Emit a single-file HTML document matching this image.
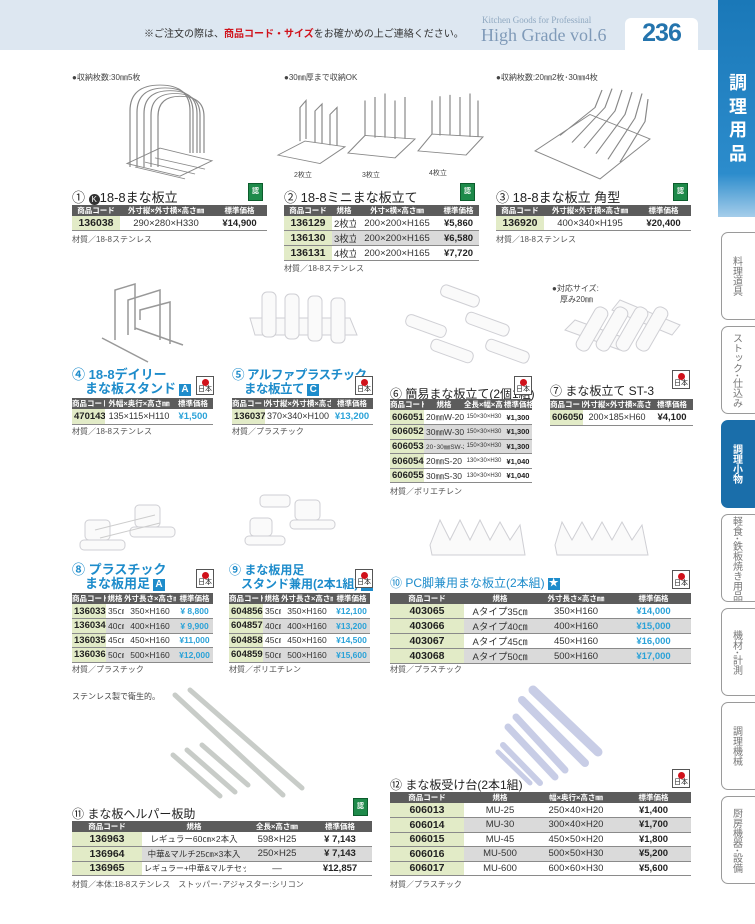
<!DOCTYPE html>
<html><head><meta charset="utf-8">
<style>
*{margin:0;padding:0;box-sizing:border-box}
body{width:755px;height:924px;position:relative;background:#fff;font-family:"Liberation Sans","Noto Sans CJK JP",sans-serif;color:#222;overflow:hidden}
.a{position:absolute;white-space:nowrap}
.hdr{position:absolute;left:0;top:0;width:718px;height:50px;background:#dde7f1}
.tab236{position:absolute;left:625px;top:18px;width:73px;height:34px;background:#fff;border-radius:6px 6px 0 0;text-align:center;font:bold 25px "Liberation Sans",sans-serif;color:#2474ad;line-height:30px;letter-spacing:-1px}
.side{position:absolute;left:718px;top:0;width:37px;height:217px;background:linear-gradient(#1a78b8,#2c8ccc 80%,#a5cdea)}
.sidetxt{position:absolute;left:726px;top:72px;width:24px;color:#fff;font-weight:bold;font-size:18px;line-height:23.5px;text-align:center}
.stab{position:absolute;left:721px;width:40px;height:88px;border:1px solid #9a9a9a;border-radius:7px;background:#fff;color:#777;font-size:10px;writing-mode:vertical-rl;display:flex;align-items:center;justify-content:center;padding-right:10px}
.stab.on{background:#1a6eaa;border-color:#1a6eaa;color:#fff;font-weight:bold}
table{position:absolute;border-collapse:collapse;font-size:9.5px;table-layout:fixed}
th{background:#5c5c5c;color:#fff;font-size:7.5px;font-weight:bold;text-align:center;padding:0;white-space:nowrap;overflow:hidden}
td{border-bottom:1.5px solid #8a8a8a;padding:0 2px;white-space:nowrap;overflow:hidden;text-align:center;color:#333}
td.c{background:#e2ebc7;font-weight:bold;font-size:10.5px;color:#222}
tr.g td{background:#dadada}
tr.g td.c{background:#e2ebc7}
td.p{font-weight:bold;color:#222}
td.b{font-weight:bold;color:#2aa2d8}
.t1{font-size:13px;color:#222}
.tb{font-size:13px;color:#1e8ccb;font-weight:bold;line-height:14px}
.note{font-size:8px;color:#444}
.mat{font-size:8px;color:#555}
.gr{position:absolute;width:15px;height:18px;background:#1e8a4a;border:1px solid #0c5c2c;color:#fff;font-size:7px;font-weight:bold;text-align:center;line-height:16px}
.jp{position:absolute;width:18px;height:19px;border:1px solid #555;background:#fff;font-size:7px;text-align:center;padding-top:9px;line-height:8px}
.jp:before{content:"";position:absolute;left:5px;top:2px;width:7px;height:7px;border-radius:50%;background:#d0121b}
.bx{display:inline-block;background:#1e8ccb;color:#fff;font-size:10px;width:12px;height:12px;line-height:12px;text-align:center;margin-left:3px;vertical-align:1px}
</style></head><body>

<div class="hdr"></div>
<div class="a" style="left:144px;top:25px;font-size:10px;color:#333">※ご注文の際は、<b style="color:#d0121b">商品コード・サイズ</b>をお確かめの上ご連絡ください。</div>
<div class="a" style="left:482px;top:15px;font:9px 'Liberation Serif',serif;color:#8fa8c0">Kitchen Goods for Professinal</div>
<div class="a" style="left:481px;top:25px;font:18px 'Liberation Serif',serif;color:#7f9ab8">High Grade vol.6</div>
<div class="tab236">236</div>
<div class="side"></div>
<div class="sidetxt">調<br>理<br>用<br>品</div>

<div class="stab" style="top:232px">料理道具</div>
<div class="stab" style="top:326px">ストック･仕込み</div>
<div class="stab on" style="top:420px">調理小物</div>
<div class="stab" style="top:514px">軽食･鉄板焼き用品</div>
<div class="stab" style="top:608px">機材･計測</div>
<div class="stab" style="top:702px">調理機械</div>
<div class="stab" style="top:796px">厨房機器･設備</div>

<svg class="a" style="left:0;top:0" width="720" height="924">
 <g fill="none" stroke="#888" stroke-width="1.2" transform="matrix(1 0 0 0.7 0 -4.5)">
  <path d="M130 245 V165 Q130 128 160 128 Q190 128 190 165 V225"/><path d="M137 245 V167 Q137 132 165 132 Q193 132 193 167 V225"/>
  <path d="M144 245 V169 Q144 136 170 136 Q197 136 197 169 V225"/><path d="M151 245 V171 Q151 140 175 140 Q200 140 200 171 V225"/>
  <path d="M158 245 V173 Q158 144 180 144 Q204 144 204 173 V225"/>
  <path d="M127 240 L160 218 L212 236 L180 258 Z"/><path d="M135 245 L185 262 M145 238 L195 255 M155 232 L205 248"/>
  <path d="M278 228 L305 208 L345 216 L320 240 Z M300 208 V160 L306 150 V205 M315 210 V165 L322 155 V212 M330 214 V170 L337 160 V214"/>
  <path d="M348 225 L365 200 L415 205 L395 232 Z M365 200 V150 M375 203 V145 M385 203 V140 M395 205 V150 M405 205 V145"/>
  <path d="M418 222 L432 198 L483 202 L466 228 Z M432 198 V150 M440 200 V144 M450 200 V142 M460 200 V145 M470 202 V140 M478 202 V150"/>
  <path d="M535 222 L590 170 L650 205 L600 262 Z M560 200 L595 160 L602 135 M572 210 L605 160 L612 133 M584 218 L615 165 L622 135 M596 226 L625 170 L632 138 M608 234 L635 175 L642 140 M620 238 L645 180 L648 148"/>
 </g>
 <g fill="none" stroke="#999" stroke-width="1.5">
  <path d="M102 338 L148 362 M135 328 L183 345 M115 340 V290 L135 284 V330 M128 335 V300 L160 290 V340 M140 320 V310 L170 302 V344"/>
 </g>
 <g fill="#fafafa" stroke="#cfcfd4" stroke-width="1">
  <path d="M250 318 L350 318 L357 335 L255 335 Z"/>
  <rect x="262" y="292" width="14" height="45" rx="5"/><rect x="285" y="294" width="14" height="45" rx="5"/><rect x="308" y="296" width="14" height="45" rx="5"/><rect x="331" y="298" width="14" height="45" rx="5"/>
  <rect x="440" y="290" width="40" height="12" rx="5" transform="rotate(20 460 296)"/><rect x="405" y="320" width="42" height="12" rx="5" transform="rotate(20 426 326)"/>
  <rect x="465" y="318" width="45" height="12" rx="5" transform="rotate(20 487 324)"/><rect x="430" y="345" width="44" height="12" rx="5" transform="rotate(20 452 351)"/>
  <rect x="485" y="345" width="45" height="12" rx="5" transform="rotate(20 507 351)"/>
  <path d="M565 330 L620 350 L630 340 L575 320 Z"/><path d="M620 300 L680 325 L672 335 L612 310 Z"/>
  <rect x="585" y="305" width="14" height="48" rx="6" transform="rotate(30 592 329)"/><rect x="605" y="305" width="14" height="48" rx="6" transform="rotate(30 612 329)"/>
  <rect x="625" y="305" width="14" height="48" rx="6" transform="rotate(30 632 329)"/><rect x="645" y="305" width="14" height="48" rx="6" transform="rotate(30 652 329)"/>
  <rect x="85" y="520" width="25" height="20" rx="4"/><rect x="80" y="540" width="45" height="10" rx="4"/><rect x="135" y="505" width="25" height="22" rx="4"/><rect x="130" y="527" width="45" height="10" rx="4"/>
  <path d="M95 530 L155 515 M100 538 L160 523" stroke="#ccc"/>
  <rect x="250" y="518" width="22" height="18" rx="4"/><rect x="245" y="536" width="40" height="9" rx="4"/><rect x="295" y="500" width="25" height="20" rx="4"/><rect x="290" y="520" width="45" height="9" rx="4"/>
  <rect x="260" y="495" width="30" height="12" rx="4"/>
  <path d="M430 545 L440 520 L450 540 L460 520 L470 540 L480 520 L490 540 L500 522 L510 540 L520 525 L525 555 L432 555 Z"/>
  <path d="M555 545 L562 522 L572 540 L582 522 L592 540 L602 522 L612 540 L622 522 L632 540 L642 525 L648 555 L557 555 Z"/>
 </g>
 <g stroke-linecap="round">
  <path d="M175 695 L283 795" stroke="#c8ccc8" stroke-width="5"/><path d="M190 690 L302 788" stroke="#c8ccc8" stroke-width="5"/>
  <path d="M173 755 L220 796" stroke="#c8ccc8" stroke-width="5"/><path d="M187 750 L235 792" stroke="#c8ccc8" stroke-width="5"/><path d="M202 745 L248 785" stroke="#c8ccc8" stroke-width="5"/>
  <path d="M533 690 L598 752" stroke="#c8cde6" stroke-width="9"/><path d="M522 700 L585 763" stroke="#c8cde6" stroke-width="8"/>
  <path d="M516 717 L565 770" stroke="#c8cde6" stroke-width="7"/><path d="M508 727 L555 777" stroke="#c8cde6" stroke-width="7"/>
  <path d="M503 745 L540 783" stroke="#c8cde6" stroke-width="6"/><path d="M498 752 L530 783" stroke="#c8cde6" stroke-width="5"/>
 </g>
</svg>

<div class="a note" style="left:72px;top:72px">●収納枚数:30㎜5枚</div>
<div class="a note" style="left:284px;top:72px">●30㎜厚まで収納OK</div>
<div class="a note" style="left:496px;top:72px">●収納枚数:20㎜2枚･30㎜4枚</div>
<div class="a note" style="left:294px;top:170px;font-size:7px">2枚立</div>
<div class="a note" style="left:362px;top:170px;font-size:7px">3枚立</div>
<div class="a note" style="left:429px;top:168px;font-size:7px">4枚立</div>
<div class="a note" style="left:552px;top:283px">●対応サイズ:<br>　厚み20㎜</div>
<div class="a note" style="left:72px;top:691px">ステンレス製で衛生的。</div>

<!-- Row 1 -->
<div class="a t1" style="left:72px;top:187px">① <span style="display:inline-block;width:11px;height:11px;border-radius:50%;background:#333;color:#fff;font-size:8px;text-align:center;line-height:11px">K</span>18-8まな板立</div>
<div class="gr" style="left:248px;top:183px">認</div>
<table style="left:72px;top:205px;width:195px"><colgroup><col style="width:48px"><col style="width:92px"><col></colgroup>
<tr style="height:11px"><th>商品コード</th><th>外寸縦×外寸横×高さ㎜</th><th>標準価格</th></tr>
<tr style="height:14.5px"><td class="c">136038</td><td>290×280×H330</td><td class="p">¥14,900</td></tr></table>
<div class="a mat" style="left:72px;top:234px">材質／18-8ステンレス</div>

<div class="a t1" style="left:284px;top:187px">② 18-8ミニまな板立て</div>
<div class="gr" style="left:460px;top:183px">認</div>
<table style="left:284px;top:205px;width:195px"><colgroup><col style="width:48px"><col style="width:24px"><col style="width:82px"><col></colgroup>
<tr style="height:11px"><th>商品コード</th><th>規格</th><th>外寸×横×高さ㎜</th><th>標準価格</th></tr>
<tr style="height:14.5px"><td class="c">136129</td><td>2枚立</td><td>200×200×H165</td><td class="p">¥5,860</td></tr>
<tr class="g" style="height:14.5px"><td class="c">136130</td><td>3枚立</td><td>200×200×H165</td><td class="p">¥6,580</td></tr>
<tr style="height:14.5px"><td class="c">136131</td><td>4枚立</td><td>200×200×H165</td><td class="p">¥7,720</td></tr></table>
<div class="a mat" style="left:284px;top:263px">材質／18-8ステンレス</div>

<div class="a t1" style="left:496px;top:187px">③ 18-8まな板立 角型</div>
<div class="gr" style="left:673px;top:183px">認</div>
<table style="left:496px;top:205px;width:195px"><colgroup><col style="width:48px"><col style="width:92px"><col></colgroup>
<tr style="height:11px"><th>商品コード</th><th>外寸縦×外寸横×高さ㎜</th><th>標準価格</th></tr>
<tr style="height:14.5px"><td class="c">136920</td><td>400×340×H195</td><td class="p">¥20,400</td></tr></table>
<div class="a mat" style="left:496px;top:234px">材質／18-8ステンレス</div>

<!-- Row 2 -->
<div class="a tb" style="left:72px;top:368px">④ 18-8デイリー<br>　まな板スタンド<span class="bx">A</span></div>
<div class="jp" style="left:196px;top:376px">日本</div>
<table style="left:72px;top:398px;width:141px"><colgroup><col style="width:33px"><col style="width:68px"><col></colgroup>
<tr style="height:9px"><th>商品コード</th><th>外幅×奥行×高さ㎜</th><th>標準価格</th></tr>
<tr style="height:15px"><td class="c" style="font-size:9.5px">470143</td><td style="font-size:9px">135×115×H110</td><td class="b">¥1,500</td></tr></table>
<div class="a mat" style="left:72px;top:426px">材質／18-8ステンレス</div>

<div class="a tb" style="left:232px;top:368px;font-size:12.5px;letter-spacing:-0.5px">⑤ アルファプラスチック<br>　まな板立て<span class="bx">C</span></div>
<div class="jp" style="left:355px;top:376px">日本</div>
<table style="left:232px;top:398px;width:141px"><colgroup><col style="width:33px"><col style="width:66px"><col></colgroup>
<tr style="height:9px"><th>商品コード</th><th>外寸縦×外寸横×高さ㎜</th><th>標準価格</th></tr>
<tr style="height:15px"><td class="c" style="font-size:9.5px">136037</td><td style="font-size:9px">370×340×H100</td><td class="b">¥13,200</td></tr></table>
<div class="a mat" style="left:232px;top:426px">材質／プラスチック</div>

<div class="a t1" style="left:390px;top:385px;font-size:12px">⑥ 簡易まな板立て(2個1組)</div>
<div class="jp" style="left:514px;top:376px">日本</div>
<table style="left:390px;top:399px;width:142px;font-size:8.5px"><colgroup><col style="width:34px"><col style="width:40px"><col style="width:40px"><col></colgroup>
<tr style="height:9px"><th>商品コード</th><th>規格</th><th>全長×幅×高さ㎜</th><th>標準価格</th></tr>
<tr style="height:14.6px"><td class="c" style="font-size:9.5px">606051</td><td>20㎜W-20</td><td style="font-size:6px">150×30×H30</td><td class="p" style="font-size:7.5px">¥1,300</td></tr>
<tr class="g" style="height:14.6px"><td class="c" style="font-size:9.5px">606052</td><td>30㎜W-30</td><td style="font-size:6px">150×30×H30</td><td class="p" style="font-size:7.5px">¥1,300</td></tr>
<tr class="g" style="height:14.6px"><td class="c" style="font-size:9.5px">606053</td><td style="font-size:6.5px">20･30㎜SW-23</td><td style="font-size:6px">150×30×H30</td><td class="p" style="font-size:7.5px">¥1,300</td></tr>
<tr style="height:14.6px"><td class="c" style="font-size:9.5px">606054</td><td>20㎜S-20</td><td style="font-size:6px">130×30×H30</td><td class="p" style="font-size:7.5px">¥1,040</td></tr>
<tr style="height:14.6px"><td class="c" style="font-size:9.5px">606055</td><td>30㎜S-30</td><td style="font-size:6px">130×30×H30</td><td class="p" style="font-size:7.5px">¥1,040</td></tr></table>
<div class="a mat" style="left:390px;top:486px">材質／ポリエチレン</div>

<div class="a t1" style="left:550px;top:382px;font-size:12px">⑦ まな板立て ST-3</div>
<div class="jp" style="left:672px;top:370px">日本</div>
<table style="left:550px;top:399px;width:143px"><colgroup><col style="width:33px"><col style="width:68px"><col></colgroup>
<tr style="height:9px"><th>商品コード</th><th>外寸縦×外寸横×高さ㎜</th><th>標準価格</th></tr>
<tr style="height:15px"><td class="c" style="font-size:9.5px">606050</td><td style="font-size:9px">200×185×H60</td><td class="p">¥4,100</td></tr></table>

<!-- Row 3 -->
<div class="a tb" style="left:72px;top:563px">⑧ プラスチック<br>　まな板用足<span class="bx">A</span></div>
<div class="jp" style="left:196px;top:569px">日本</div>
<table style="left:72px;top:593px;width:141px;font-size:8.5px"><colgroup><col style="width:34px"><col style="width:18px"><col style="width:52px"><col></colgroup>
<tr style="height:10px"><th>商品コード</th><th>規格</th><th>外寸長さ×高さ㎜</th><th>標準価格</th></tr>
<tr style="height:14.5px"><td class="c" style="font-size:9.5px">136033</td><td>35㎝</td><td>350×H160</td><td class="b">¥ 8,800</td></tr>
<tr class="g" style="height:14.5px"><td class="c" style="font-size:9.5px">136034</td><td>40㎝</td><td>400×H160</td><td class="b">¥ 9,900</td></tr>
<tr style="height:14.5px"><td class="c" style="font-size:9.5px">136035</td><td>45㎝</td><td>450×H160</td><td class="b">¥11,000</td></tr>
<tr class="g" style="height:14.5px"><td class="c" style="font-size:9.5px">136036</td><td>50㎝</td><td>500×H160</td><td class="b">¥12,000</td></tr></table>
<div class="a mat" style="left:72px;top:664px">材質／プラスチック</div>

<div class="a tb" style="left:229px;top:563px;font-size:12px">⑨ まな板用足<br>　スタンド兼用(2本1組)<span class="bx">A</span></div>
<div class="jp" style="left:355px;top:569px">日本</div>
<table style="left:229px;top:593px;width:141px;font-size:8.5px"><colgroup><col style="width:34px"><col style="width:18px"><col style="width:52px"><col></colgroup>
<tr style="height:10px"><th>商品コード</th><th>規格</th><th>外寸長さ×高さ㎜</th><th>標準価格</th></tr>
<tr style="height:14.5px"><td class="c" style="font-size:9.5px">604856</td><td>35㎝</td><td>350×H160</td><td class="b">¥12,100</td></tr>
<tr class="g" style="height:14.5px"><td class="c" style="font-size:9.5px">604857</td><td>40㎝</td><td>400×H160</td><td class="b">¥13,200</td></tr>
<tr style="height:14.5px"><td class="c" style="font-size:9.5px">604858</td><td>45㎝</td><td>450×H160</td><td class="b">¥14,500</td></tr>
<tr class="g" style="height:14.5px"><td class="c" style="font-size:9.5px">604859</td><td>50㎝</td><td>500×H160</td><td class="b">¥15,600</td></tr></table>
<div class="a mat" style="left:229px;top:664px">材質／ポリエチレン</div>

<div class="a tb" style="left:390px;top:576px;font-weight:normal;font-size:12px">⑩ PC脚兼用まな板立(2本組)<span class="bx">★</span></div>
<div class="jp" style="left:672px;top:570px">日本</div>
<table style="left:390px;top:593px;width:301px"><colgroup><col style="width:74px"><col style="width:72px"><col style="width:80px"><col></colgroup>
<tr style="height:10px"><th>商品コード</th><th>規格</th><th>外寸長さ×高さ㎜</th><th>標準価格</th></tr>
<tr style="height:14.5px"><td class="c">403065</td><td>Aタイプ35㎝</td><td>350×H160</td><td class="b">¥14,000</td></tr>
<tr class="g" style="height:14.5px"><td class="c">403066</td><td>Aタイプ40㎝</td><td>400×H160</td><td class="b">¥15,000</td></tr>
<tr style="height:14.5px"><td class="c">403067</td><td>Aタイプ45㎝</td><td>450×H160</td><td class="b">¥16,000</td></tr>
<tr class="g" style="height:14.5px"><td class="c">403068</td><td>Aタイプ50㎝</td><td>500×H160</td><td class="b">¥17,000</td></tr></table>
<div class="a mat" style="left:390px;top:664px">材質／プラスチック</div>

<!-- Row 4 -->
<div class="a t1" style="left:72px;top:805px;font-size:12px">⑪ まな板ヘルパー板助</div>
<div class="gr" style="left:353px;top:798px">認</div>
<table style="left:72px;top:821px;width:300px"><colgroup><col style="width:70px"><col style="width:104px"><col style="width:62px"><col></colgroup>
<tr style="height:11px"><th>商品コード</th><th>規格</th><th>全長×高さ㎜</th><th>標準価格</th></tr>
<tr style="height:14.5px"><td class="c">136963</td><td style="font-size:8.5px">レギュラー60㎝×2本入</td><td>598×H25</td><td class="p">¥ 7,143</td></tr>
<tr class="g" style="height:14.5px"><td class="c">136964</td><td style="font-size:8.5px">中華&amp;マルチ25㎝×3本入</td><td>250×H25</td><td class="p">¥ 7,143</td></tr>
<tr style="height:14.5px"><td class="c">136965</td><td style="font-size:8px">レギュラー+中華&amp;マルチセット</td><td>—</td><td class="p">¥12,857</td></tr></table>
<div class="a mat" style="left:72px;top:879px">材質／本体:18-8ステンレス　ストッパー･アジャスター:シリコン</div>

<div class="a t1" style="left:390px;top:776px;font-size:12px">⑫ まな板受け台(2本1組)</div>
<div class="jp" style="left:672px;top:769px">日本</div>
<table style="left:390px;top:792px;width:301px"><colgroup><col style="width:74px"><col style="width:72px"><col style="width:80px"><col></colgroup>
<tr style="height:11px"><th>商品コード</th><th>規格</th><th>幅×奥行×高さ㎜</th><th>標準価格</th></tr>
<tr style="height:14.5px"><td class="c">606013</td><td>MU-25</td><td>250×40×H20</td><td class="p">¥1,400</td></tr>
<tr class="g" style="height:14.5px"><td class="c">606014</td><td>MU-30</td><td>300×40×H20</td><td class="p">¥1,700</td></tr>
<tr style="height:14.5px"><td class="c">606015</td><td>MU-45</td><td>450×50×H20</td><td class="p">¥1,800</td></tr>
<tr class="g" style="height:14.5px"><td class="c">606016</td><td>MU-500</td><td>500×50×H30</td><td class="p">¥5,200</td></tr>
<tr style="height:14.5px"><td class="c">606017</td><td>MU-600</td><td>600×60×H30</td><td class="p">¥5,600</td></tr></table>
<div class="a mat" style="left:390px;top:879px">材質／プラスチック</div>

</body></html>
